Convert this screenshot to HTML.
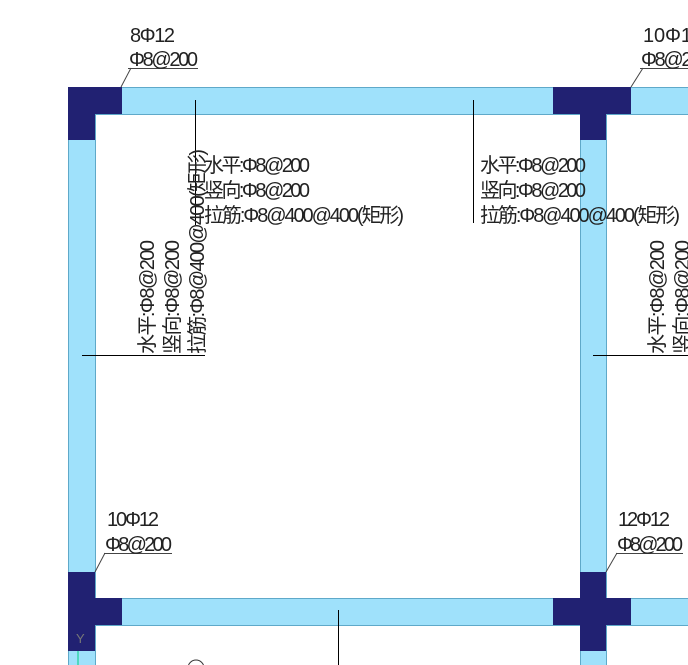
<!DOCTYPE html>
<html><head><meta charset="utf-8"><style>
html,body{margin:0;padding:0;background:#fff;width:688px;height:665px;overflow:hidden}
text{font-family:"Liberation Sans","Noto Sans CJK SC",sans-serif;font-size:20px;fill:#222}
</style></head><body>
<svg width="688" height="665" viewBox="0 0 688 665" xmlns="http://www.w3.org/2000/svg">
<g fill="#9fe1fb" stroke="#5fa9c9" stroke-width="1">
<rect x="68.5" y="87.5" width="630" height="27"/>
<rect x="68.5" y="598.5" width="630" height="27"/>
<rect x="68.5" y="87.5" width="27" height="590"/>
<rect x="580.5" y="87.5" width="26" height="590"/>
</g>
<g fill="#212172">
<rect x="68" y="87" width="54" height="27"/><rect x="68" y="87" width="27" height="53"/>
<rect x="553" y="87" width="78" height="27"/><rect x="580" y="87" width="26" height="53"/>
<rect x="68" y="572" width="27" height="79"/><rect x="68" y="598" width="54" height="27"/>
<rect x="553" y="598" width="78" height="27"/><rect x="580" y="572" width="26" height="79"/>
</g>
<line x1="78" y1="651" x2="78" y2="665" stroke="#00d080"/>
<text x="76" y="643" style="font-size:13px;fill:#777">Y</text>
<g stroke="#000" stroke-width="1">
<line x1="195.5" y1="100" x2="195.5" y2="225"/>
<line x1="473.5" y1="100" x2="473.5" y2="223"/>
<line x1="82" y1="355.5" x2="205" y2="355.5"/>
<line x1="593" y1="355.5" x2="688" y2="355.5"/>
<line x1="338.5" y1="610" x2="338.5" y2="665"/>
</g>
<g stroke="#444" stroke-width="1">
<line x1="128" y1="68.5" x2="198" y2="68.5"/><line x1="131" y1="68" x2="121" y2="87"/>
<line x1="640" y1="68.5" x2="688" y2="68.5"/><line x1="643" y1="68" x2="631" y2="87"/>
<line x1="104" y1="553.5" x2="172" y2="553.5"/><line x1="105" y1="553" x2="95" y2="572"/>
<line x1="616" y1="553.5" x2="683" y2="553.5"/><line x1="617" y1="553" x2="606" y2="572"/>
</g>
<text x="130" y="42" textLength="45">8Φ12</text>
<text x="129" y="66" textLength="69">Φ8@200</text>
<text x="643" y="42" textLength="60">10Φ12</text>
<text x="641" y="66" textLength="69">Φ8@200</text>
<text x="107" y="526" textLength="52">10Φ12</text>
<text x="105" y="551" textLength="67">Φ8@200</text>
<text x="618" y="526" textLength="52">12Φ12</text>
<text x="617" y="551" textLength="66">Φ8@200</text>
<text x="204" y="172" textLength="106">水平:Φ8@200</text>
<text x="204" y="197" textLength="106">竖向:Φ8@200</text>
<text x="204" y="222" textLength="200">拉筋:Φ8@400@400(矩形)</text>
<text x="480" y="172" textLength="106">水平:Φ8@200</text>
<text x="480" y="197" textLength="106">竖向:Φ8@200</text>
<text x="480" y="222" textLength="200">拉筋:Φ8@400@400(矩形)</text>
<text transform="translate(154,354) rotate(-90)" textLength="114">水平:Φ8@200</text>
<text transform="translate(179,354) rotate(-90)" textLength="114">竖向:Φ8@200</text>
<text transform="translate(204,354) rotate(-90)" textLength="205">拉筋:Φ8@400@400(矩形)</text>
<text transform="translate(664,354) rotate(-90)" textLength="114">水平:Φ8@200</text>
<text transform="translate(689,354) rotate(-90)" textLength="114">竖向:Φ8@200</text>
<circle cx="196" cy="668" r="8" fill="none" stroke="#333"/>
</svg>
</body></html>
